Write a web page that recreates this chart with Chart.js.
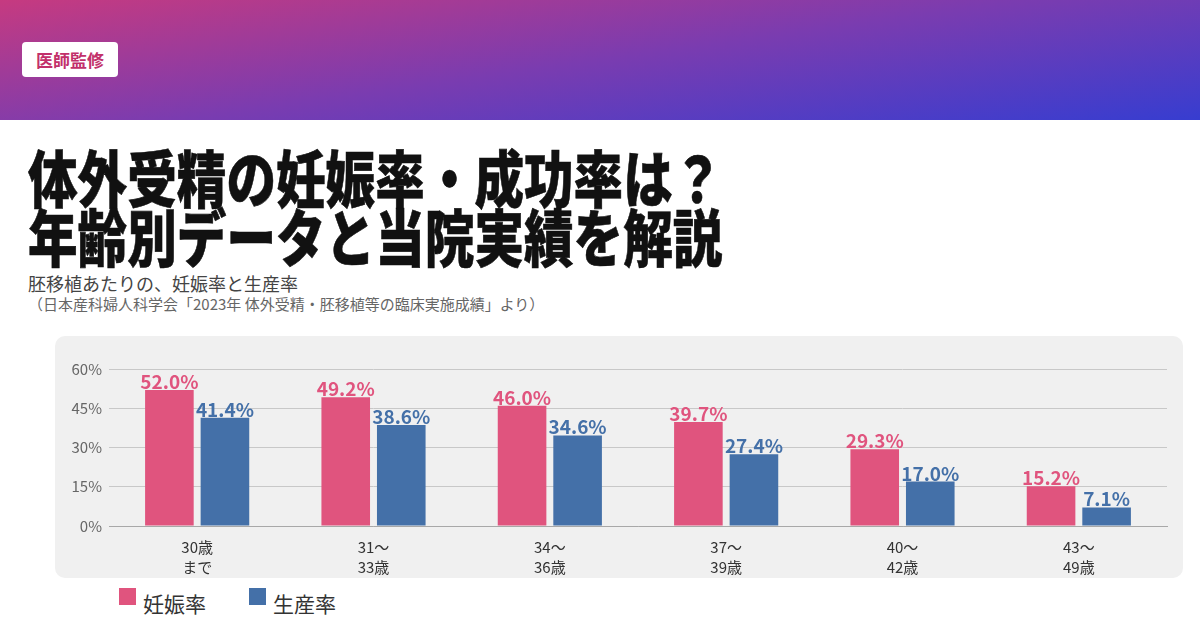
<!DOCTYPE html>
<html lang="ja">
<head>
<meta charset="utf-8">
<script src="https://cdn.jsdelivr.net/npm/chart.js@4.4.1/dist/chart.umd.min.js"></script>
<style>
  body { margin: 0; width: 1200px; height: 630px; background: #fff; overflow: hidden;
         font-family: "Noto Sans CJK JP", "Noto Sans", sans-serif; position: relative; }
  .banner { position: absolute; left: 0; top: 0; width: 1200px; height: 120px;
            background: linear-gradient(172deg, #c63a80 0%, #7a3cb0 50%, #373dd0 100%); }
  .badge { position: absolute; left: 22px; top: 42px; width: 96px; height: 35px; background: #fff;
           border-radius: 4px; color: #c2306a; font-weight: 700; font-size: 17px;
           line-height: 35px; text-align: center; }
  .title { position: absolute; left: 28px; top: 147px; font-size: 62px; font-weight: 900; color: #111;
           line-height: 59px; white-space: nowrap; transform: scale(0.8, 1); transform-origin: left top;
           -webkit-text-stroke: 0.6px #111; }
  .sub { position: absolute; left: 28px; top: 270px; font-size: 18px; color: #444; }
  .src { position: absolute; left: 28px; top: 293px; font-size: 15px; color: #666; }
  .panel { position: absolute; left: 55px; top: 336px; width: 1128px; height: 242px;
           background: #f0f0f0; border-radius: 10px; }
  .legend { position: absolute; left: 119px; top: 588px; font-size: 21px; color: #333; }
  .legend span { display: inline-block; margin-right: 43px; }
  .legend i { display: inline-block; width: 17px; height: 17px; vertical-align: top; margin-right: 7px; margin-top: 0px; }
</style>
</head>
<body>
<div class="banner"></div>
<div class="badge">医師監修</div>
<div class="title">体外受精の妊娠率・成功率は？<br>年齢別データと当院実績を解説</div>
<div class="sub">胚移植あたりの、妊娠率と生産率</div>
<div class="src">（日本産科婦人科学会「2023年 体外受精・胚移植等の臨床実施成績」より）</div>
<div class="panel"><canvas id="myChart" width="1128" height="242"></canvas></div>
<div class="legend" id="legend"></div>
<script>
// 年齢別の妊娠率・生産率（%）
const ageGroups = [['30歳', 'まで'], ['31〜', '33歳'], ['34〜', '36歳'], ['37〜', '39歳'], ['40〜', '42歳'], ['43〜', '49歳']];
const pregnancyRate = [52.0, 49.2, 46.0, 39.7, 29.3, 15.2];
const liveBirthRate = [41.4, 38.6, 34.6, 27.4, 17.0, 7.1];
const yTicks = [0, 15, 30, 45, 60];

const pink = 'rgb(224, 84, 126)';
const blue = 'rgb(68, 112, 168)';

const barLabels = {
    id: 'barLabels',
    afterDatasetsDraw(chart) {
        const { ctx } = chart;
        ctx.save();
        ctx.font = 'bold 19px "Noto Sans CJK JP"';
        ctx.textAlign = 'center';
        ctx.textBaseline = 'alphabetic';
        chart.data.datasets.forEach((ds, i) => {
            chart.getDatasetMeta(i).data.forEach((bar, j) => {
                ctx.fillStyle = ds.backgroundColor;
                ctx.fillText(ds.data[j].toFixed(1) + '%', bar.x, bar.y - 1);
            });
        });
        ctx.restore();
    }
};

var ctx = document.getElementById('myChart');
var myChart = new Chart(ctx, {
    type: 'bar',
    data: {
        labels: ageGroups,
        datasets: [{
            label: '妊娠率',
            data: pregnancyRate,
            backgroundColor: pink,
            categoryPercentage: 0.63,
            barPercentage: 0.875,
        }, {
            label: '生産率',
            data: liveBirthRate,
            backgroundColor: blue,
            categoryPercentage: 0.63,
            barPercentage: 0.875,
        }]
    },
    options: {
        responsive: false,
        animation: false,
        layout: { padding: { top: 33, right: 16, left: 0, bottom: 0 } },
        plugins: {
            legend: { display: false },
            tooltip: { enabled: false }
        },
        scales: {
            x: {
                grid: { display: false },
                border: { color: '#a8a8a8', width: 1 },
                ticks: {
                    color: '#333',
                    font: { family: '"Noto Sans CJK JP"', size: 15, lineHeight: 1.3 },
                    padding: 4,
                    maxRotation: 0
                },
                afterFit(scale) { scale.height = 52; }
            },
            y: {
                min: 0,
                max: 60,
                afterBuildTicks(scale) { scale.ticks = yTicks.map(v => ({ value: v })); },
                grid: { color: '#c8c8c8', drawTicks: false },
                border: { display: false },
                ticks: {
                    color: '#666',
                    font: { family: '"Noto Sans CJK JP"', size: 15 },
                    padding: 7,
                    callback: v => v + '%'
                },
                afterFit(scale) { scale.width = 54; }
            }
        }
    },
    plugins: [barLabels]
});

document.getElementById('legend').innerHTML = myChart.data.datasets
    .map(ds => '<span><i style="background:' + ds.backgroundColor + '"></i>' + ds.label + '</span>')
    .join('');
</script>
</body>
</html>
